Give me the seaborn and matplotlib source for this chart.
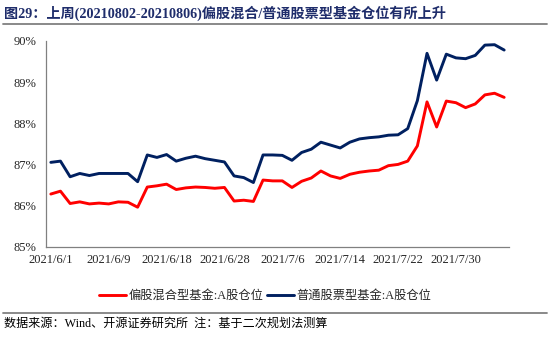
import numpy as np
import pandas as pd
import matplotlib
matplotlib.use("Agg")
import matplotlib.pyplot as plt
from matplotlib.lines import Line2D
from matplotlib.ticker import FixedLocator, FuncFormatter
import seaborn as sns

# ---- data ----
tick_labels = ["2021/6/1", "2021/6/9", "2021/6/18", "2021/6/28",
               "2021/7/6", "2021/7/14", "2021/7/22", "2021/7/30"]
tick_every = 6
hybrid_equity = [86.28, 86.35, 86.05, 86.09, 86.04, 86.06, 86.04, 86.09, 86.08, 85.96,
                 86.45, 86.48, 86.52, 86.39, 86.43, 86.45, 86.44, 86.42, 86.44, 86.11,
                 86.13, 86.10, 86.62, 86.60, 86.60, 86.44, 86.59, 86.67, 86.84, 86.72,
                 86.66, 86.76, 86.81, 86.84, 86.86, 86.97, 87.00, 87.08, 87.45, 88.52,
                 87.91, 88.54, 88.50, 88.38, 88.47, 88.69, 88.73, 88.63]
common_stock = [87.05, 87.08, 86.70, 86.78, 86.73, 86.78, 86.78, 86.78, 86.78, 86.58,
                87.23, 87.17, 87.24, 87.08, 87.15, 87.20, 87.14, 87.10, 87.06, 86.72,
                86.68, 86.56, 87.23, 87.23, 87.22, 87.10, 87.29, 87.37, 87.54, 87.47,
                87.40, 87.54, 87.62, 87.65, 87.67, 87.71, 87.72, 87.87, 88.55, 89.70,
                89.05, 89.68, 89.59, 89.57, 89.65, 89.90, 89.91, 89.78]
series_names = ["偏股混合型基金:A股仓位", "普通股票型基金:A股仓位"]
series_colors = ["#FF0000", "#002060"]
title_text = "图29：上周(20210802-20210806)偏股混合/普通股票型基金仓位有所上升"
source_text = "数据来源：Wind、开源证券研究所  注：基于二次规划法测算"

n = len(hybrid_equity)
df = pd.DataFrame({
    "idx": list(range(n)) * 2,
    "value": hybrid_equity + common_stock,
    "series": [series_names[0]] * n + [series_names[1]] * n,
})

sns.set_style("white")
plt.rcParams["font.family"] = ["Liberation Serif", "Noto Sans CJK SC", "DejaVu Sans"]

fig = plt.figure(figsize=(5.5, 3.42), dpi=100)
ax = fig.add_axes([46 / 550, 1 - 246.7 / 342, (509 - 46) / 550, (246.7 - 41) / 342])

sns.lineplot(data=df, x="idx", y="value", hue="series", hue_order=series_names,
             palette=series_colors, linewidth=2.1, ax=ax, legend=False)

ax.set_xlim(-0.5, n - 0.5)
ax.set_ylim(85, 90)
ax.set_xlabel("")
ax.set_ylabel("")

# x: labels at category centres, tick marks at category boundaries
ax.xaxis.set_major_locator(FixedLocator([i * tick_every for i in range(len(tick_labels))]))
ax.set_xticklabels(tick_labels)
ax.xaxis.set_minor_locator(FixedLocator([i * tick_every - 0.5 for i in range(len(tick_labels) + 1)]))
ax.tick_params(axis="x", which="major", length=0, pad=5, labelsize=9)
ax.tick_params(axis="x", which="minor", direction="in", length=3.5, width=0.8, color="#808080")

ax.set_yticks(np.arange(85, 90.01, 1))
ax.yaxis.set_major_formatter(FuncFormatter(lambda v, p: f"{v:.0f}%"))
ax.tick_params(axis="y", direction="out", length=4, width=0.8, color="#808080", pad=3, labelsize=9)

for s in ["top", "right"]:
    ax.spines[s].set_visible(False)
for s in ["left", "bottom"]:
    ax.spines[s].set_color("#808080")
    ax.spines[s].set_linewidth(0.9)
ax.grid(False)

# legend
handles = [Line2D([0], [0], color=c, lw=2.1) for c in series_colors]
fig.legend(handles, series_names, loc="center", bbox_to_anchor=(265 / 550, 1 - 296 / 342),
           ncol=2, frameon=False, fontsize=8.8, handlelength=2.2, handletextpad=0.2,
           columnspacing=0.3)

# title & footer
fig.text(4 / 550, 1 - 13 / 342, title_text, fontsize=10.2, fontweight="bold",
         color="#1F2D6B", va="center", ha="left")
fig.add_artist(Line2D([3 / 550, 547 / 550], [1 - 24 / 342] * 2, transform=fig.transFigure,
                      color="#808080", lw=1.3))
fig.add_artist(Line2D([3 / 550, 547 / 550], [1 - 313 / 342] * 2, transform=fig.transFigure,
                      color="#808080", lw=1.3))
fig.text(4 / 550, 1 - 324 / 342, source_text, fontsize=8.7, color="#000000",
         va="center", ha="left")

fig.savefig("out.png", dpi=100)
